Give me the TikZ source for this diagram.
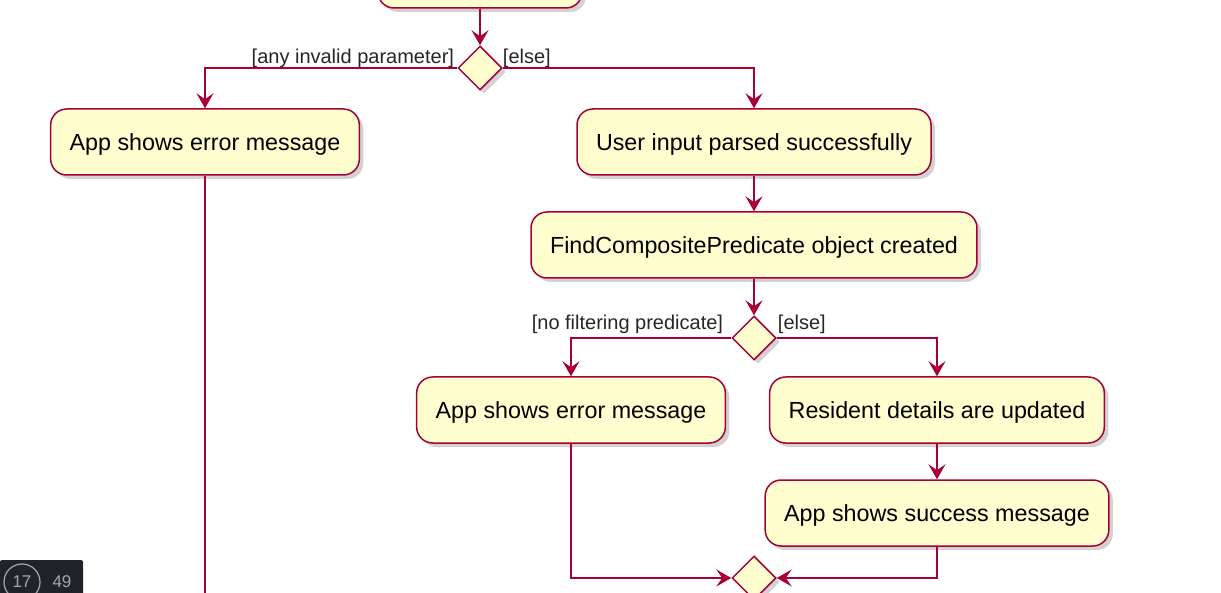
\documentclass[tikz,border=0pt]{standalone}
\usepackage{fontspec}
\setmainfont{Liberation Sans}
\usetikzlibrary{arrows.meta,shapes.geometric,shadows}
\definecolor{umlred}{HTML}{A80036}
\definecolor{umlfill}{HTML}{FEFECE}
\definecolor{badgebg}{HTML}{1F232A}
\definecolor{badgetx}{HTML}{A3A7AD}

\begin{document}
\begin{tikzpicture}[x=1pt, y=-1pt,
    act/.style={draw=umlred, line width=1.5pt, fill=umlfill, rounded corners=16pt, minimum height=66pt, inner xsep=19pt, text depth=0pt, font=\fontsize{23.3}{27}\selectfont, drop shadow={shadow xshift=4pt, shadow yshift=-4pt, fill=black!35}},
    dec/.style={diamond, draw=umlred, line width=1.5pt, fill=umlfill, minimum width=44pt, minimum height=44pt, inner sep=0pt, drop shadow={shadow xshift=4pt, shadow yshift=-4pt, fill=black!35}},
    arr/.style={-{Stealth[length=15pt, width=17pt, inset=6pt]}, draw=umlred, line width=1.5pt},
    ln/.style={draw=umlred, line width=1.5pt},
    lbl/.style={font=\fontsize{20}{23}\selectfont, text=black!85, inner sep=0pt}
]
\useasboundingbox (0,0) rectangle (1221,593);
\clip (0,0) rectangle (1221,593);

\node[act, minimum width=204pt] (prev) at (480,-25) {};
\node[dec] (d1) at (480,68) {};
\node[act] (err1) at (205,142) {App shows error message};
\node[act] (parse) at (754,142) {User input parsed successfully};
\node[act] (pred) at (754,245) {FindCompositePredicate object created};
\node[dec] (d2) at (754,338) {};
\node[act] (err2) at (571,410) {App shows error message};
\node[act] (upd) at (937,410) {Resident details are updated};
\node[act] (ok) at (937,513) {App shows success message};
\node[dec] (merge) at (754,578) {};
\coordinate (out) at (205,600);

% guards
\node[lbl, anchor=base east, xshift=-3pt, yshift=4pt] (g1) at (d1.west) {[any invalid parameter]};
\node[lbl, anchor=base west, xshift=0pt, yshift=4pt] (g2) at (d1.east) {[else]};
\node[lbl, anchor=base east, xshift=-8pt, yshift=8pt] (g3) at (d2.west) {[no filtering predicate]};
\node[lbl, anchor=base west, xshift=1pt, yshift=8pt] (g4) at (d2.east) {[else]};

\draw[arr] (prev) -- (d1);
\draw[arr] (d1.west) -| (err1);
\draw[arr] (d1.east) -| (parse);
\draw[arr] (parse) -- (pred);
\draw[arr] (pred) -- (d2);
\draw[arr] (d2.west) -| (err2);
\draw[arr] (d2.east) -| (upd);
\draw[arr] (upd) -- (ok);
\draw[arr] (err2) |- (merge.west);
\draw[arr] (ok) |- (merge.east);
\draw[ln] (err1) -- (out);

% slide counter
\fill[badgebg, rounded corners=2pt] (0,560) rectangle (83,600);
\node[circle, draw=badgetx, line width=1.2pt, minimum size=36pt, inner sep=0pt, text=badgetx, font=\fontsize{17}{20}\selectfont] (page) at (22,582) {17};
\node[text=badgetx, font=\fontsize{17}{20}\selectfont] (total) at (62,582) {49};
\end{tikzpicture}
\end{document}
